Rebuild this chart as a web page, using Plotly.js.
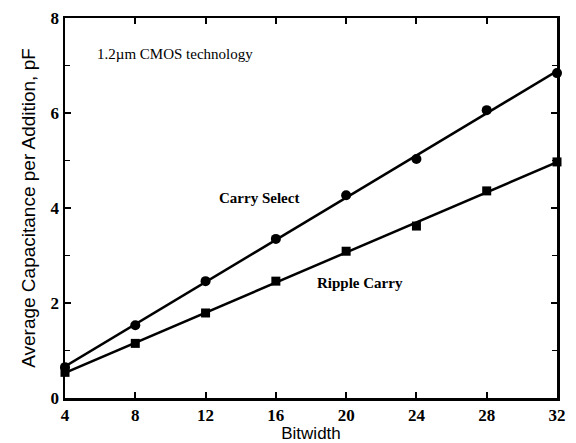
<!DOCTYPE html>
<html>
<head>
<meta charset="utf-8">
<script src="https://cdn.plot.ly/plotly-3.0.1.min.js"></script>
<style>html,body{margin:0;padding:0;background:#fff;}#chart{width:576px;height:443px;}</style>
</head>
<body>
<div id="chart"></div>
<script>
const bitwidth = [4, 8, 12, 16, 20, 24, 28, 32];
const carrySelect = [0.65, 1.53, 2.46, 3.35, 4.27, 5.03, 6.06, 6.84];
const rippleCarry = [0.54, 1.15, 1.79, 2.46, 3.09, 3.62, 4.36, 4.97];
const xTicks = [4, 8, 12, 16, 20, 24, 28, 32];
const yTicks = [0, 2, 4, 6, 8];

function fit(xs, ys) {
  const n = xs.length;
  const mx = xs.reduce((a, b) => a + b, 0) / n;
  const my = ys.reduce((a, b) => a + b, 0) / n;
  let sxy = 0, sxx = 0;
  for (let i = 0; i < n; i++) { sxy += (xs[i] - mx) * (ys[i] - my); sxx += (xs[i] - mx) ** 2; }
  const m = sxy / sxx, b = my - m * mx;
  const ends = [xs[0], xs[n - 1]];
  return { x: ends, y: ends.map(v => m * v + b) };
}

const fs = fit(bitwidth, carrySelect);
const fr = fit(bitwidth, rippleCarry);

const traces = [
  { x: fs.x, y: fs.y, mode: 'lines', line: { color: '#000', width: 2.5 }, hoverinfo: 'skip', showlegend: false, cliponaxis: false },
  { x: fr.x, y: fr.y, mode: 'lines', line: { color: '#000', width: 2.5 }, hoverinfo: 'skip', showlegend: false, cliponaxis: false },
  { x: bitwidth, y: carrySelect, mode: 'markers', name: 'Carry Select', marker: { symbol: 'circle', size: 10, color: '#000' }, showlegend: false, cliponaxis: false },
  { x: bitwidth, y: rippleCarry, mode: 'markers', name: 'Ripple Carry', marker: { symbol: 'square', size: 9, color: '#000' }, showlegend: false, cliponaxis: false }
];

const tickFont = { family: 'Liberation Serif, Times New Roman, serif', size: 17, color: '#000', weight: 'bold' };
const annFont = { family: 'Liberation Serif, Times New Roman, serif', size: 15, color: '#000' };

const layout = {
  width: 576, height: 443,
  margin: { l: 65, r: 19, t: 18, b: 45 },
  paper_bgcolor: '#fff', plot_bgcolor: '#fff',
  showlegend: false,
  xaxis: {
    range: [4, 32], tickmode: 'array', tickvals: xTicks, ticktext: xTicks.map(String),
    ticks: 'inside', ticklen: 6, tickwidth: 2, tickcolor: '#000',
    showline: true, linecolor: '#000', linewidth: 2.5, mirror: 'ticks',
    showgrid: false, zeroline: false, tickfont: tickFont,
    title: { text: 'Bitwidth', font: { family: 'Liberation Sans, Arial, sans-serif', size: 17, color: '#000' }, standoff: 2 }
  },
  yaxis: {
    range: [0, 8], tickmode: 'array', tickvals: yTicks, ticktext: yTicks.map(String),
    ticks: 'inside', ticklen: 6, tickwidth: 2, tickcolor: '#000',
    minor: { dtick: 1, ticks: 'inside', ticklen: 5, tickwidth: 1.5, tickcolor: '#000', showgrid: false },
    showline: true, linecolor: '#000', linewidth: 2.5, mirror: 'ticks',
    showgrid: false, zeroline: false, tickfont: tickFont,
    title: { text: 'Average Capacitance per Addition, pF', font: { family: 'Liberation Sans, Arial, sans-serif', size: 19, color: '#000' }, standoff: 10 }
  },
  annotations: [
    { text: '1.2µm CMOS technology', x: 0.06, y: 0.905, xref: 'paper', yref: 'paper', xanchor: 'left', yanchor: 'middle', showarrow: false, font: annFont },
    { text: '<b>Carry Select</b>', x: 15.05, y: 4.21, xref: 'x', yref: 'y', xanchor: 'center', yanchor: 'middle', showarrow: false, font: annFont },
    { text: '<b>Ripple Carry</b>', x: 20.8, y: 2.42, xref: 'x', yref: 'y', xanchor: 'center', yanchor: 'middle', showarrow: false, font: annFont }
  ]
};

Plotly.newPlot('chart', traces, layout, { displayModeBar: false, staticPlot: true });
</script>
</body>
</html>
